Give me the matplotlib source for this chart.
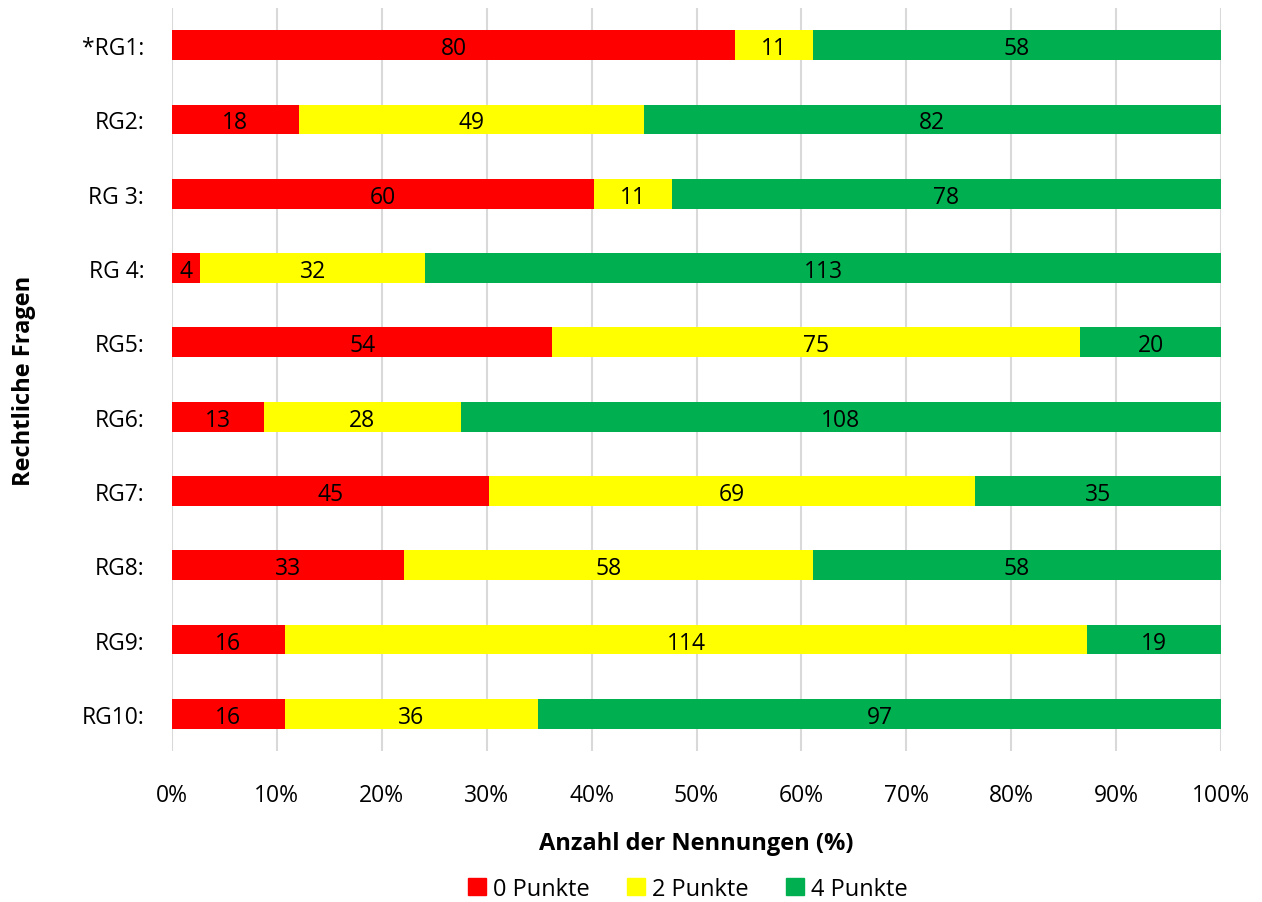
import matplotlib
matplotlib.use("Agg")
import matplotlib.pyplot as plt
import numpy as np
from matplotlib.ticker import PercentFormatter

plt.rcParams['font.family'] = ['Open Sans', 'DejaVu Sans']

categories = ["*RG1:", "RG2:", "RG 3:", "RG 4:", "RG5:", "RG6:", "RG7:", "RG8:", "RG9:", "RG10:"]
p0 = [80, 18, 60, 4, 54, 13, 45, 33, 16, 16]
p2 = [11, 49, 11, 32, 75, 28, 69, 58, 114, 36]
p4 = [58, 82, 78, 113, 20, 108, 35, 58, 19, 97]
series_names = ["0 Punkte", "2 Punkte", "4 Punkte"]
colors = ["#FF0000", "#FFFF00", "#00B050"]

data = np.array([p0, p2, p4], dtype=float)
totals = data.sum(axis=0)
pct = data / totals * 100

fig = plt.figure(figsize=(12.62, 9.03), dpi=100)
ax = fig.add_axes([172/1262, 1-752/903, (1221-172)/1262, (752-9)/903])

FS = 16.5
y = np.arange(len(categories))
left = np.zeros(len(categories))
for i in range(3):
    bars = ax.barh(y, pct[i], left=left, height=0.4, color=colors[i], label=series_names[i], zorder=3)
    for j, b in enumerate(bars):
        ax.text(left[j] + pct[i][j] / 2, y[j], f"{int(data[i][j])}", ha='center', va='center_baseline',
                fontsize=FS, color='black', zorder=4)
    left += pct[i]

ax.set_xlim(0, 100)
ax.set_ylim(len(categories) - 0.5, -0.5)
ax.set_yticks(y)
ax.set_yticklabels(categories, fontsize=FS)
ax.set_xticks(np.arange(0, 101, 10))
ax.xaxis.set_major_formatter(PercentFormatter(decimals=0))
ax.tick_params(axis='x', labelsize=FS, length=0, pad=23)
ax.tick_params(axis='y', length=0, pad=20)
ax.grid(axis='x', color='#D9D9D9', linewidth=1.5, zorder=0)
for s in ax.spines.values():
    s.set_visible(False)

ax.set_xlabel("Anzahl der Nennungen (%)", fontsize=17, fontweight='bold', labelpad=17)
ax.set_ylabel("Rechtliche Fragen", fontsize=17, fontweight='bold', labelpad=33)

handles = [plt.Rectangle((0, 0), 1, 1, color=c) for c in colors]
fig.legend(handles, series_names, loc='center', bbox_to_anchor=(688/1262, 1-890/903), ncol=3,
           frameon=False, fontsize=17, handlelength=0.75, handleheight=0.75, handletextpad=0.3,
           columnspacing=1.6)

fig.savefig("out.png", dpi=100)
